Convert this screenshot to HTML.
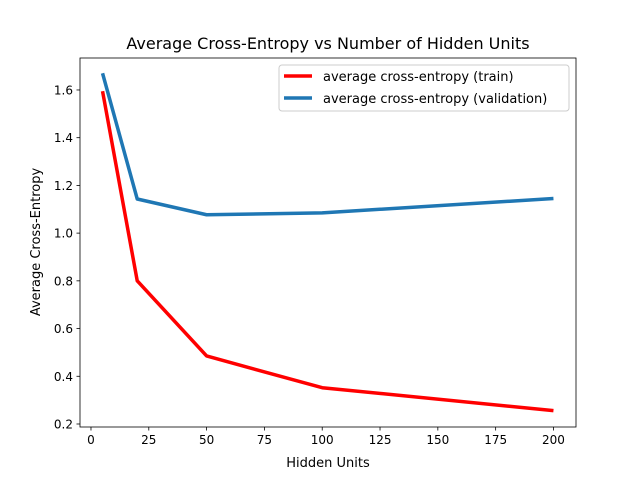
<!DOCTYPE html>
<html><head><meta charset="utf-8"><style>
body{margin:0;background:#fff;}
svg{font-family:"DejaVu Sans","Liberation Sans",sans-serif;}
</style></head><body>
<svg id="chart" width="640" height="480">
<rect width="640" height="480" fill="#fff"/>
<text x="328" y="49" font-size="16" text-anchor="middle">Average Cross-Entropy vs Number of Hidden Units</text>
<g id="plot"></g>
<rect x="80" y="58" width="496" height="369" fill="none" stroke="#000" stroke-width="0.8"/>
<text x="328" y="467" font-size="13" text-anchor="middle">Hidden Units</text>
<text x="40" y="242" font-size="13" text-anchor="middle" transform="rotate(-90 40 242)">Average Cross-Entropy</text>
<g>
<rect x="279" y="65" width="290" height="46" rx="3" fill="#fff" fill-opacity="0.8" stroke="#ccc"/>
<line x1="284" y1="76" x2="312" y2="76" stroke="red" stroke-width="3.5"/>
<text x="323" y="81" font-size="13">average cross-entropy (train)</text>
<line x1="284" y1="98" x2="312" y2="98" stroke="#1f77b4" stroke-width="3.5"/>
<text x="323" y="103" font-size="13">average cross-entropy (validation)</text>
</g>
</svg>
<script>
const hiddenUnits=[5,20,50,100,200];
const trainValues=[1.595,0.80,0.485,0.352,0.256];
const validValues=[1.67,1.143,1.077,1.085,1.145];
const xTicks=[0,25,50,75,100,125,150,175,200];
const yTicks=[0.2,0.4,0.6,0.8,1.0,1.2,1.4,1.6];
const L=80,R=576,T=58,B=427;
const xmin=-4.75,xmax=209.75,ymin=0.1874,ymax=1.734;
const sx=v=>L+(v-xmin)/(xmax-xmin)*(R-L);
const sy=v=>B-(v-ymin)/(ymax-ymin)*(B-T);
const g=document.getElementById('plot');
const NS='http://www.w3.org/2000/svg';
function mk(tag,attrs){const e=document.createElementNS(NS,tag);for(const k in attrs)e.setAttribute(k,attrs[k]);g.appendChild(e);return e;}
xTicks.forEach(t=>{
 const l=mk('line',{x1:sx(t),x2:sx(t),y1:B,y2:B+3.5,stroke:'#000','stroke-width':0.8});
 
 
 const tx=mk('text',{x:sx(t),y:B+17,'font-size':12,'text-anchor':'middle'});tx.textContent=t;
 
 
});
yTicks.forEach(t=>{
 const l=mk('line',{x1:L-3.5,x2:L,y1:sy(t),y2:sy(t),stroke:'#000','stroke-width':0.8});
 
 
 const tx=mk('text',{x:L-7,y:sy(t)+4.5,'font-size':12,'text-anchor':'end'});tx.textContent=t.toFixed(1);
 
 
});
function line(vals,color,name){
 const p=mk('polyline',{points:hiddenUnits.map((x,i)=>sx(x)+','+sy(vals[i])).join(' '),fill:'none',stroke:color,'stroke-width':3.5,'stroke-linejoin':'round'});
 
 
}
line(trainValues,'red','train-line');
line(validValues,'#1f77b4','validation-line');
</script>
</body></html>
